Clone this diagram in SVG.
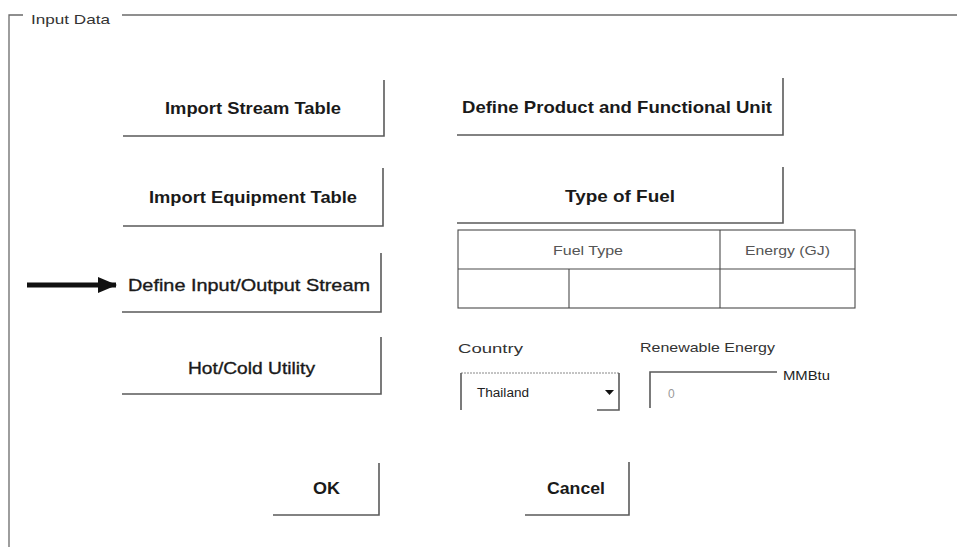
<svg xmlns="http://www.w3.org/2000/svg" width="957" height="547" viewBox="0 0 957 547">
  <style>
    .edge { fill: none; stroke: #5a5a5a; stroke-width: 1.6; }
    .frame { fill: none; stroke: #6a6a6a; stroke-width: 1.3; }
    .grid { fill: none; stroke: #4a4a4a; stroke-width: 1.1; }
    .btn { font-family: "Liberation Sans", Arial, sans-serif; font-weight: bold; font-size: 17px; fill: #1a1a1a; }
    .btn-reg { font-family: "Liberation Sans", Arial, sans-serif; font-size: 17px; fill: #1a1a1a; stroke: #1a1a1a; stroke-width: 0.35; }
    .lbl { font-family: "Liberation Sans", Arial, sans-serif; font-size: 13px; fill: #333333; }
    .cell { font-family: "Liberation Sans", Arial, sans-serif; font-size: 13px; fill: #555555; }
    .small { font-family: "Liberation Sans", Arial, sans-serif; font-size: 12px; fill: #222222; }
  </style>
  <defs>
    <marker id="head" viewBox="0 0 19 16" refX="18" refY="8" markerWidth="19" markerHeight="16" markerUnits="userSpaceOnUse" orient="auto">
      <path d="M0,0 L19,8 L0,16 Z" fill="#111111"/>
    </marker>
  </defs>

  <rect width="957" height="547" fill="#ffffff"/>

  <!-- group box -->
  <g id="frame">
    <path class="frame" d="M23,15 H9 V547"/>
    <path class="frame" d="M122,15 H957"/>
    <text class="lbl" x="31" y="24" textLength="79" lengthAdjust="spacingAndGlyphs">Input Data</text>
  </g>

  <!-- left column buttons -->
  <g id="btn-import-stream">
    <path class="edge" d="M123,136 H384 V80"/>
    <text class="btn" x="165" y="114" textLength="176" lengthAdjust="spacingAndGlyphs">Import Stream Table</text>
  </g>
  <g id="btn-import-equipment">
    <path class="edge" d="M123,226 H383 V168"/>
    <text class="btn" x="149" y="203" textLength="208" lengthAdjust="spacingAndGlyphs">Import Equipment Table</text>
  </g>
  <g id="btn-define-io">
    <path class="edge" d="M122,312 H381 V253"/>
    <text class="btn-reg" x="128" y="291" textLength="242" lengthAdjust="spacingAndGlyphs">Define Input/Output Stream</text>
  </g>
  <g id="btn-utility">
    <path class="edge" d="M122,394 H381 V337"/>
    <text class="btn-reg" x="188" y="374" textLength="127" lengthAdjust="spacingAndGlyphs">Hot/Cold Utility</text>
  </g>

  <!-- right column buttons -->
  <g id="btn-product">
    <path class="edge" d="M457,135 H783 V78"/>
    <text class="btn" x="462" y="113" textLength="310" lengthAdjust="spacingAndGlyphs">Define Product and Functional Unit</text>
  </g>
  <g id="btn-fuel">
    <path class="edge" d="M457,223 H783 V167"/>
    <text class="btn" x="565" y="202" textLength="110" lengthAdjust="spacingAndGlyphs">Type of Fuel</text>
  </g>

  <!-- fuel table -->
  <g id="fuel-table">
    <rect class="grid" x="458" y="230" width="397" height="78"/>
    <line class="grid" x1="458" y1="269" x2="855" y2="269"/>
    <line class="grid" x1="720" y1="230" x2="720" y2="308"/>
    <line class="grid" x1="569" y1="269" x2="569" y2="308"/>
    <text class="cell" x="553" y="255" textLength="70" lengthAdjust="spacingAndGlyphs">Fuel Type</text>
    <text class="cell" x="745" y="255" textLength="85" lengthAdjust="spacingAndGlyphs">Energy (GJ)</text>
  </g>

  <!-- country selector -->
  <g id="country">
    <text class="lbl" x="458" y="353" textLength="65" lengthAdjust="spacingAndGlyphs">Country</text>
    <path d="M461,373 H619" fill="none" stroke="#888888" stroke-width="1" stroke-dasharray="2,1"/>
    <path class="edge" d="M461,373 V410"/>
    <path class="edge" d="M597,410 H619 V373"/>
    <text class="small" x="477" y="397" textLength="52" lengthAdjust="spacingAndGlyphs">Thailand</text>
    <path d="M605,390 H614 L609.5,395 Z" fill="#111111"/>
  </g>

  <!-- renewable energy input -->
  <g id="renewable">
    <text class="lbl" x="640" y="352" textLength="135" lengthAdjust="spacingAndGlyphs">Renewable Energy</text>
    <path class="edge" d="M650,408 V372 H777"/>
    <text class="small" x="668" y="398" style="fill:#999999">0</text>
    <text class="small" x="783" y="380" textLength="47" lengthAdjust="spacingAndGlyphs">MMBtu</text>
  </g>

  <!-- dialog buttons -->
  <g id="btn-ok">
    <path class="edge" d="M273,515 H379 V463"/>
    <text class="btn" x="313" y="494" font-size="16" textLength="27" lengthAdjust="spacingAndGlyphs">OK</text>
  </g>
  <g id="btn-cancel">
    <path class="edge" d="M525,515 H629 V462"/>
    <text class="btn" x="547" y="494" font-size="16" textLength="58" lengthAdjust="spacingAndGlyphs">Cancel</text>
  </g>

  <!-- pointer arrow -->
  <g id="connectors">
    <line x1="27" y1="285" x2="116" y2="285" stroke="#111111" stroke-width="5" marker-end="url(#head)"/>
  </g>
</svg>
